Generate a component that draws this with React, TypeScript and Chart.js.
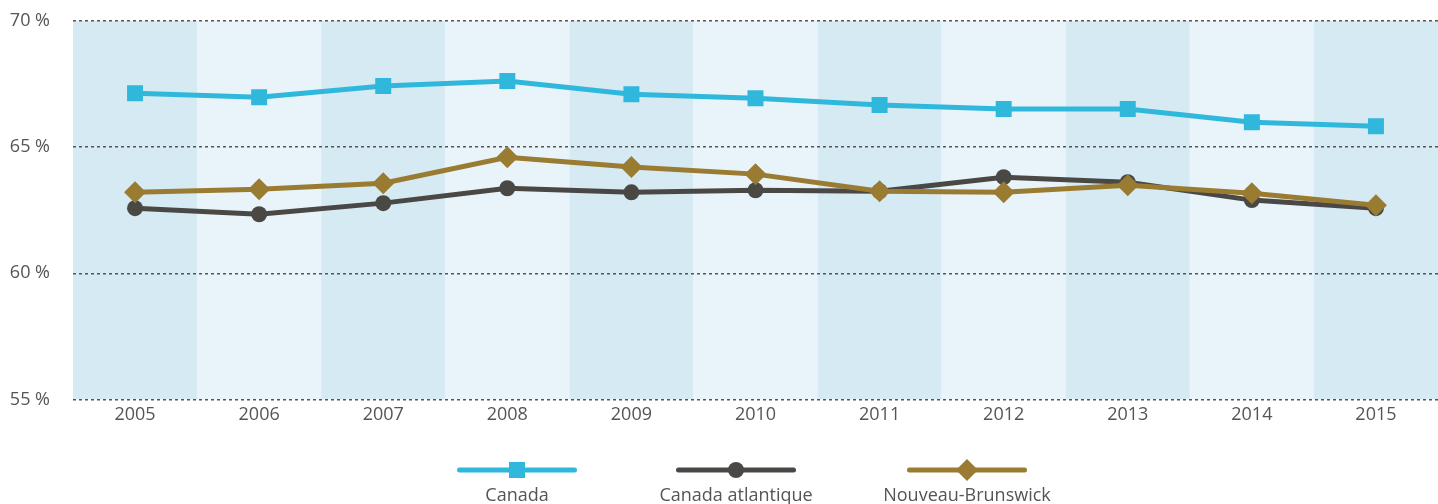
import React, { useEffect, useRef } from "react";
import { Chart, registerables } from "chart.js";

Chart.register(...registerables);

const years = ["2005", "2006", "2007", "2008", "2009", "2010", "2011", "2012", "2013", "2014", "2015"];
const canada = [67.14, 66.98, 67.42, 67.62, 67.1, 66.94, 66.67, 66.51, 66.51, 65.99, 65.83];
const atlantique = [62.58, 62.34, 62.78, 63.37, 63.21, 63.29, 63.25, 63.81, 63.61, 62.9, 62.58];
const nouveauBrunswick = [63.21, 63.33, 63.57, 64.6, 64.21, 63.93, 63.25, 63.21, 63.49, 63.17, 62.7];
const yTicks = [55, 60, 65, 70];

const FONT = "'Open Sans', sans-serif";
const TEXT = "#555555";
const BAND_DARK = "#d6eaf3";
const BAND_LIGHT = "#e8f4f9";
const LEGEND_CENTERS = [517, 736, 967];

const bandsPlugin = {
  id: "bands",
  beforeDraw(chart: any) {
    const { ctx, chartArea, scales } = chart;
    const x = scales.x;
    const n = chart.data.labels.length;
    const step = (chartArea.right - chartArea.left) / n;
    ctx.save();
    for (let i = 0; i < n; i++) {
      const c = x.getPixelForValue(i);
      ctx.fillStyle = i % 2 === 0 ? BAND_DARK : BAND_LIGHT;
      ctx.fillRect(c - step / 2, chartArea.top, step, chartArea.bottom - chartArea.top);
    }
    ctx.restore();
  },
};

const legendPlugin = {
  id: "customLegend",
  afterDraw(chart: any) {
    const { ctx } = chart;
    const ds = chart.data.datasets;
    ctx.save();
    ctx.font = `18px ${FONT}`;
    const lineW = 115;
    const lineY = 470;
    const textY = 496;
    ds.forEach((d: any, i: number) => {
      const cx = LEGEND_CENTERS[i];
      ctx.strokeStyle = d.borderColor;
      ctx.lineWidth = 5;
      ctx.lineCap = "round";
      ctx.beginPath();
      ctx.moveTo(cx - lineW / 2, lineY);
      ctx.lineTo(cx + lineW / 2, lineY);
      ctx.stroke();
      ctx.fillStyle = d.backgroundColor;
      ctx.beginPath();
      const r = d.pointRadius;
      if (d.pointStyle === "rect") {
        const s = Math.SQRT1_2 * r;
        ctx.rect(cx - s, lineY - s, 2 * s, 2 * s);
      } else if (d.pointStyle === "circle") {
        ctx.arc(cx, lineY, r, 0, Math.PI * 2);
      } else {
        ctx.moveTo(cx - r, lineY);
        ctx.lineTo(cx, lineY - r);
        ctx.lineTo(cx + r, lineY);
        ctx.lineTo(cx, lineY + r);
        ctx.closePath();
      }
      ctx.fill();
      ctx.fillStyle = TEXT;
      ctx.textAlign = "center";
      ctx.textBaseline = "middle";
      ctx.fillText(d.label, cx, textY);
    });
    ctx.restore();
  },
};

export default function App() {
  const ref = useRef<HTMLCanvasElement>(null);
  useEffect(() => {
    if (!ref.current) return;
    const chart = new Chart(ref.current, {
      type: "line",
      data: {
        labels: years,
        datasets: [
          {
            label: "Canada",
            data: canada,
            borderColor: "#2fb8dc",
            backgroundColor: "#2fb8dc",
            borderWidth: 5,
            pointStyle: "rect",
            pointRadius: 11.3,
            pointBorderWidth: 0,
            tension: 0,
            order: 0,
          },
          {
            label: "Canada atlantique",
            data: atlantique,
            borderColor: "#4a4845",
            backgroundColor: "#4a4845",
            borderWidth: 5,
            pointStyle: "circle",
            pointRadius: 8,
            pointBorderWidth: 0,
            tension: 0,
            order: 2,
          },
          {
            label: "Nouveau-Brunswick",
            data: nouveauBrunswick,
            borderColor: "#9a7b32",
            backgroundColor: "#9a7b32",
            borderWidth: 5,
            pointStyle: "rectRot",
            pointRadius: 11,
            pointBorderWidth: 0,
            tension: 0,
            order: 1,
          },
        ],
      },
      options: {
        animation: false,
        responsive: true,
        maintainAspectRatio: false,
        layout: { autoPadding: false, padding: { top: 21, bottom: 73, left: 0, right: 0 } },
        plugins: {
          legend: { display: false },
          tooltip: { enabled: false },
        },
        scales: {
          x: {
            offset: true,
            grid: { display: false, drawTicks: false },
            border: { display: false },
            ticks: { color: TEXT, font: { family: FONT, size: 18 }, padding: 5, maxRotation: 0 },
            afterFit(axis: any) {
              axis.paddingLeft = 0;
              axis.paddingRight = 0;
            },
          },
          y: {
            min: 55,
            max: 70,
            afterBuildTicks(axis: any) {
              axis.ticks = yTicks.map((v) => ({ value: v }));
            },
            afterFit(axis: any) {
              axis.width = 73;
              axis.paddingTop = 0;
              axis.paddingBottom = 0;
            },
            grid: {
              color: "#555555",
              lineWidth: 1.5,
              drawTicks: false,
            },
            border: { display: false, dash: [3, 3] },
            ticks: {
              color: TEXT,
              font: { family: FONT, size: 18 },
              padding: 23,
              callback: (v: any) => `${v} %`,
            },
          },
        },
      },
      plugins: [bandsPlugin, legendPlugin],
    });
    return () => chart.destroy();
  }, []);
  return (
    <div style={{ position: "absolute", left: 0, top: 0, width: 1438, height: 504 }}>
      <canvas ref={ref} />
    </div>
  );
}
